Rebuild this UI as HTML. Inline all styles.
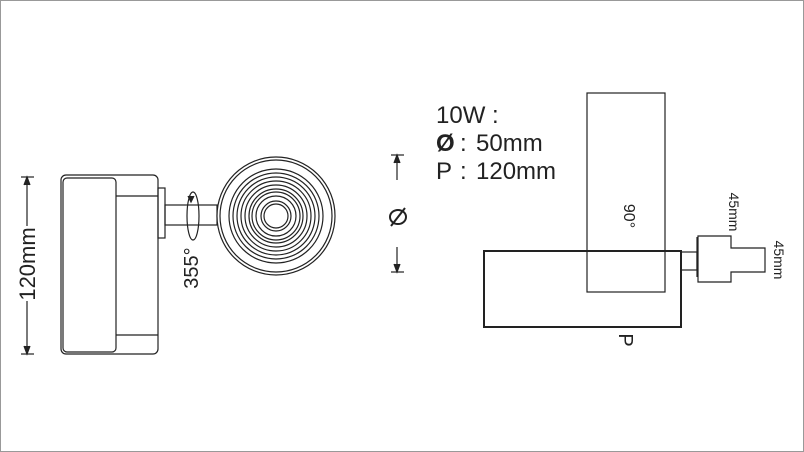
<!DOCTYPE html>
<html><head><meta charset="utf-8"><style>
html,body{margin:0;padding:0;background:#fff}
svg{display:block}
text{font-family:"Liberation Sans",sans-serif;fill:#222}
</style></head><body>
<svg width="804" height="452" viewBox="0 0 804 452" xmlns="http://www.w3.org/2000/svg">
<rect x="0.5" y="0.5" width="803" height="451" fill="#fff" stroke="#999" stroke-width="1"/>
<g fill="none" stroke="#222" stroke-width="1.2">
<!-- left dimension -->
<line x1="27" y1="177" x2="27" y2="226"/>
<line x1="27" y1="301" x2="27" y2="354"/>
<line x1="21" y1="177" x2="34" y2="177"/>
<line x1="21" y1="354" x2="34" y2="354"/>
<path d="M24,185 L27,177 L30,185" fill="#222"/>
<path d="M24,346 L27,354 L30,346" fill="#222"/>
<!-- body -->
<rect x="61" y="175" width="97" height="179" rx="5"/>
<rect x="63" y="178" width="53" height="174" rx="4"/>
<line x1="116" y1="196" x2="158" y2="196"/>
<line x1="116" y1="335" x2="158" y2="335"/>
<rect x="158" y="188" width="7" height="50"/>
<rect x="165" y="205" width="52" height="20"/>
<ellipse cx="193" cy="216" rx="6" ry="24"/>
<path d="M188,196 L191,202 L194,196" fill="#222"/>
<!-- lens -->
<circle cx="276" cy="216" r="59" fill="#fff"/>
<circle cx="276" cy="216" r="56"/>
<circle cx="276" cy="216" r="47"/>
<circle cx="276" cy="216" r="43"/>
<circle cx="276" cy="216" r="39"/>
<circle cx="276" cy="216" r="35"/>
<circle cx="276" cy="216" r="31"/>
<circle cx="276" cy="216" r="27"/>
<circle cx="276" cy="216" r="24"/>
<circle cx="276" cy="216" r="20"/>
<circle cx="276" cy="216" r="15"/>
<circle cx="276" cy="216" r="12"/>
<!-- diameter dim -->
<line x1="391" y1="155" x2="404" y2="155"/>
<line x1="397" y1="155" x2="397" y2="180"/>
<path d="M394,163 L397,155 L400,163" fill="#222"/>
<line x1="391" y1="272" x2="404" y2="272"/>
<line x1="397" y1="247" x2="397" y2="272"/>
<path d="M394,264 L397,272 L400,264" fill="#222"/>
<ellipse cx="398" cy="217" rx="8" ry="7" stroke-width="2"/>
<line x1="391" y1="226" x2="405" y2="208" stroke-width="2"/>
<!-- right view -->
<rect x="587" y="93" width="78" height="199"/>
<rect x="484" y="251" width="197" height="76" stroke-width="2"/>
<rect x="681" y="252" width="16" height="18"/>
<line x1="697" y1="237" x2="697" y2="277"/>
<path d="M698,236 H731 V248 H765 V272 H731 V282 H698 Z"/>
</g>
<g font-size="24">
<text x="436" y="123">10W :</text>
<text x="436" y="151" font-weight="bold">Ø</text><text x="460" y="151">:</text><text x="476" y="151">50mm</text>
<text x="436" y="179">P</text><text x="460" y="179">:</text><text x="476" y="179">120mm</text>
</g>
<text font-size="22" transform="translate(35,264) rotate(-90)" text-anchor="middle">120mm</text>
<text font-size="20" transform="translate(198,268) rotate(-90)" text-anchor="middle">355°</text>
<text font-size="16" transform="translate(624,216) rotate(90)" text-anchor="middle">90°</text>
<text font-size="14" transform="translate(729,212) rotate(90)" text-anchor="middle">45mm</text>
<text font-size="14" transform="translate(774,260) rotate(90)" text-anchor="middle">45mm</text>
<text font-size="20" transform="translate(619,340) rotate(90)" text-anchor="middle">P</text>
</svg>
</body></html>
